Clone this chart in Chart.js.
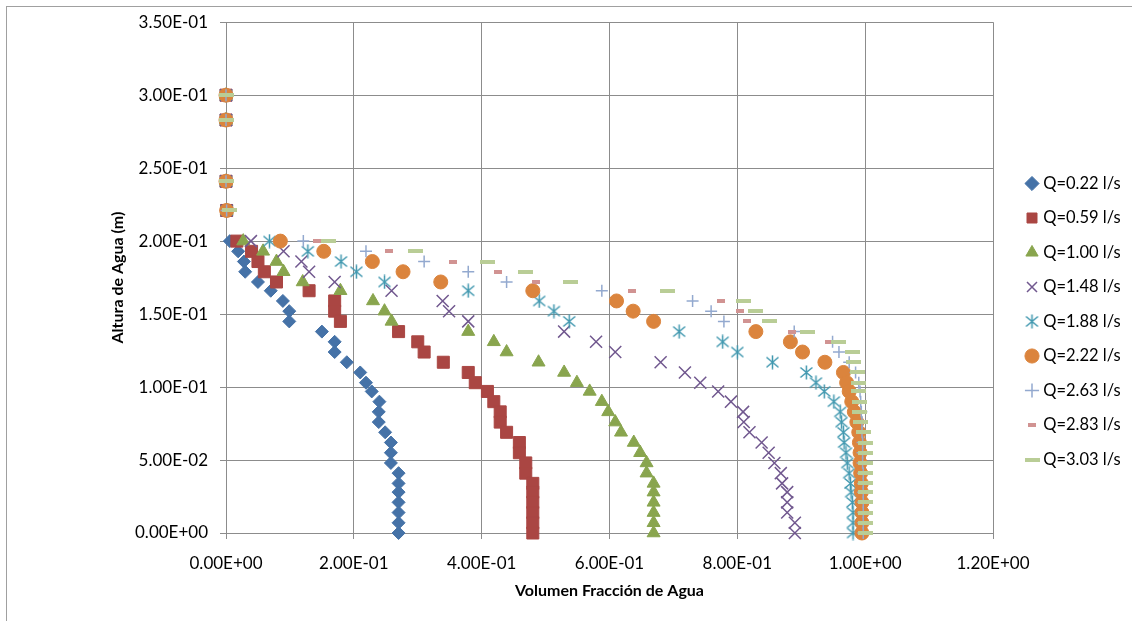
<!DOCTYPE html>
<html><head><meta charset="utf-8">
<script src="https://cdn.jsdelivr.net/npm/chart.js@4.4.1/dist/chart.umd.min.js"></script>
<style>
html,body{margin:0;padding:0;background:#fff;overflow:hidden;}
#wrap{position:relative;width:1132px;height:621px;overflow:hidden;}
#frame{position:absolute;left:6px;top:6px;width:2000px;height:2000px;border:1px solid #a0a0a0;}
canvas{position:absolute;left:0;top:0;}
</style></head><body>
<div id="wrap"><div id="frame"></div><canvas id="c" width="1132" height="621"></canvas></div>
<script>
// ---- data ----
const heights = [0.300, 0.283, 0.241, 0.221, 0.200, 0.193, 0.186, 0.179, 0.172, 0.166, 0.159, 0.152, 0.145, 0.138, 0.131, 0.124, 0.117, 0.110, 0.103, 0.097, 0.090, 0.083, 0.076, 0.069, 0.062, 0.055, 0.048, 0.041, 0.034, 0.028, 0.021, 0.014, 0.007, 0.000];
const seriesLabels = ['Q=0.22 l/s','Q=0.59 l/s','Q=1.00 l/s','Q=1.48 l/s','Q=1.88 l/s','Q=2.22 l/s','Q=2.63 l/s','Q=2.83 l/s','Q=3.03 l/s'];
const q022 = [0, 0, 0, 0.001, 0.006, 0.019, 0.028, 0.030, 0.050, 0.070, 0.089, 0.099, 0.099, 0.150, 0.170, 0.170, 0.189, 0.210, 0.219, 0.228, 0.240, 0.239, 0.239, 0.249, 0.258, 0.258, 0.258, 0.270, 0.270, 0.270, 0.270, 0.270, 0.270, 0.270];
const q059 = [0, 0, 0, 0.001, 0.017, 0.040, 0.050, 0.060, 0.079, 0.130, 0.170, 0.170, 0.179, 0.270, 0.300, 0.310, 0.340, 0.379, 0.390, 0.409, 0.419, 0.429, 0.429, 0.439, 0.459, 0.459, 0.469, 0.469, 0.480, 0.480, 0.480, 0.480, 0.480, 0.480];
const q100 = [0, 0, 0, 0.001, 0.027, 0.058, 0.079, 0.090, 0.120, 0.179, 0.230, 0.248, 0.259, 0.379, 0.419, 0.439, 0.489, 0.529, 0.549, 0.569, 0.588, 0.598, 0.609, 0.618, 0.638, 0.648, 0.658, 0.658, 0.669, 0.669, 0.669, 0.669, 0.669, 0.669];
const q148 = [0, 0, 0, 0.001, 0.039, 0.090, 0.118, 0.130, 0.170, 0.259, 0.339, 0.349, 0.379, 0.529, 0.579, 0.609, 0.680, 0.718, 0.742, 0.770, 0.790, 0.809, 0.810, 0.819, 0.838, 0.849, 0.858, 0.868, 0.870, 0.878, 0.878, 0.878, 0.890, 0.890];
const q188 = [0, 0, 0, 0.001, 0.068, 0.128, 0.180, 0.204, 0.248, 0.379, 0.490, 0.513, 0.537, 0.709, 0.777, 0.800, 0.855, 0.908, 0.923, 0.936, 0.951, 0.961, 0.963, 0.966, 0.967, 0.970, 0.972, 0.975, 0.977, 0.978, 0.980, 0.981, 0.981, 0.981];
const q222 = [0, 0, 0, 0.001, 0.085, 0.153, 0.229, 0.277, 0.336, 0.480, 0.611, 0.637, 0.669, 0.829, 0.883, 0.902, 0.937, 0.966, 0.971, 0.975, 0.979, 0.983, 0.987, 0.990, 0.991, 0.992, 0.992, 0.993, 0.994, 0.994, 0.995, 0.995, 0.995, 0.995];
const q263 = [0, 0, 0, 0.001, 0.121, 0.219, 0.310, 0.379, 0.439, 0.588, 0.730, 0.759, 0.779, 0.889, 0.949, 0.959, 0.975, 0.985, 0.990, 0.992, 0.993, 0.994, 0.995, 0.995, 0.996, 0.996, 0.996, 0.997, 0.997, 0.997, 0.997, 0.997, 0.997, 0.997];
const q283 = [0, 0, 0, 0.001, 0.143, 0.255, 0.355, 0.425, 0.485, 0.635, 0.774, 0.804, 0.815, 0.885, 0.944, 0.975, 0.985, 0.990, 0.992, 0.994, 0.995, 0.996, 0.997, 0.998, 0.998, 0.999, 0.999, 0.999, 1.000, 1.000, 1.000, 1.000, 1.000, 1.000];
const q303 = [0, 0, 0, 0.005, 0.160, 0.296, 0.409, 0.469, 0.539, 0.690, 0.810, 0.829, 0.850, 0.910, 0.959, 0.980, 0.981, 0.988, 0.990, 0.990, 0.991, 0.991, 0.992, 0.998, 1.000, 1.000, 1.000, 1.000, 1.000, 1.000, 1.000, 1.000, 1.000, 1.000];
const xTicks = [0, 0.2, 0.4, 0.6, 0.8, 1.0, 1.2];
const yTicks = [0, 0.05, 0.10, 0.15, 0.20, 0.25, 0.30, 0.35];
const xTitle = 'Volumen Fracción de Agua';
const yTitle = 'Altura de Agua (m)';
const allSeries = [q022, q059, q100, q148, q188, q222, q263, q283, q303];

// ---- marker images ----
function makeAsterisk(color){
  const c=document.createElement('canvas'); c.width=15; c.height=15;
  const g=c.getContext('2d'); g.strokeStyle=color; g.lineWidth=1.5; g.lineCap='butt';
  g.beginPath();
  g.moveTo(7.5,0.5); g.lineTo(7.5,14.5);
  g.moveTo(1.5,2.5); g.lineTo(13.5,12.5);
  g.moveTo(13.5,2.5); g.lineTo(1.5,12.5);
  g.stroke(); return c;
}
function makeDash(color,w,h){
  const c=document.createElement('canvas'); c.width=w; c.height=h;
  const g=c.getContext('2d'); g.fillStyle=color; g.fillRect(0,0,w,h); return c;
}
const styles = [
  {ps:'rectRot', r:6.5, color:'#4572A7', bw:1},
  {ps:'rect', r:8.5, color:'#AA4643', bw:1},
  {ps:'triangle', r:7.5, color:'#89A54E', bw:1},
  {ps:'crossRot', r:8.5, color:'#71588F', bw:1.5},
  {ps:makeAsterisk('#4198AF'), r:7, color:'#4198AF', bw:1.5},
  {ps:'circle', r:7, color:'#DB843D', bw:1},
  {ps:'cross', r:6, color:'#93A9CF', bw:1.5},
  {ps:makeDash('#D19392',8,4), r:4, color:'#D19392', bw:1},
  {ps:makeDash('#B9CD96',15,4), r:7.5, color:'#B9CD96', bw:1}
];

function sci(v){
  const s = Number(v).toExponential(2);
  const parts = s.split('e');
  const sign = parts[1][0] === '-' ? '-' : '+';
  const d = parts[1].replace(/[+-]/,'').padStart(2,'0');
  return parts[0] + 'E' + sign + d;
}

const datasets = allSeries.map((xs, i) => ({
  label: seriesLabels[i],
  data: xs.map((x, k) => ({x: x, y: heights[k]})),
  pointStyle: styles[i].ps,
  pointRadius: styles[i].r,
  pointHoverRadius: styles[i].r,
  pointBorderWidth: styles[i].bw,
  borderWidth: styles[i].bw,
  backgroundColor: styles[i].color,
  borderColor: styles[i].color,
  pointBackgroundColor: styles[i].color,
  pointBorderColor: styles[i].color,
  showLine: false,
  clip: false,
  order: 10 - i
}));

Chart.defaults.font.family = 'Lato, "Liberation Sans", sans-serif';
Chart.defaults.font.size = 16;
Chart.defaults.color = '#000';

const LEGEND_W = 139, LEGEND_DX = 18, LEGEND_DY = 0;
const layoutPlugin = {
  id: 'layoutTweak',
  beforeLayout(chart){
    const lg = chart.legend;
    if (lg && !lg._patched){
      const orig = lg.fit;
      lg.fit = function(){ orig.call(this); this.width = LEGEND_W; };
      lg._patched = true;
    }
  },
  afterLayout(chart){
    const lg = chart.legend;
    if (lg){ lg.left += LEGEND_DX; lg.right += LEGEND_DX; lg.top += LEGEND_DY; lg.bottom += LEGEND_DY; }
  }
};

const gridColor = '#8c8c8c';
new Chart(document.getElementById('c'), {
  type: 'scatter',
  data: { datasets },
  plugins: [layoutPlugin],
  options: {
    responsive: false,
    animation: false,
    events: [],
    layout: { padding: { top: 22, left: 0, right: 0, bottom: 0 } },
    plugins: {
      tooltip: { enabled: false },
      legend: {
        position: 'right',
        align: 'center',
        labels: {
          usePointStyle: true,
          boxWidth: 6,
          boxHeight: 10,
          padding: 18,
          color: '#000',
          font: { size: 16.5 },
          sort: (a, b) => a.datasetIndex - b.datasetIndex
        }
      }
    },
    scales: {
      x: {
        type: 'linear',
        min: 0, max: 1.2,
        afterFit(s){ s.height = 88; },
        afterBuildTicks(s){ s.ticks = xTicks.map(v => ({value: v})); },
        ticks: { callback: v => sci(v), padding: 14, maxRotation: 0, autoSkip: false, color: '#000', font: { size: 17 } },
        grid: { color: gridColor, lineWidth: 1, tickLength: 6, tickColor: gridColor, drawTicks: true },
        border: { color: gridColor, width: 1 },
        title: { display: true, text: xTitle, font: { size: 16, weight: 'bold' }, color: '#000', padding: { top: 0, bottom: 21 } }
      },
      y: {
        type: 'linear',
        min: 0, max: 0.35,
        afterFit(s){ s.width = 226; },
        afterBuildTicks(s){ s.ticks = yTicks.map(v => ({value: v})); },
        ticks: { callback: v => sci(v), padding: 12, autoSkip: false, color: '#000', font: { size: 17 } },
        grid: { color: gridColor, lineWidth: 1, tickLength: 6, tickColor: gridColor, drawTicks: true },
        border: { color: gridColor, width: 1 },
        title: { display: true, text: yTitle, font: { size: 16, weight: 'bold' }, color: '#000', padding: { top: 108, bottom: 0 } }
      }
    }
  }
});
</script>
</body></html>
